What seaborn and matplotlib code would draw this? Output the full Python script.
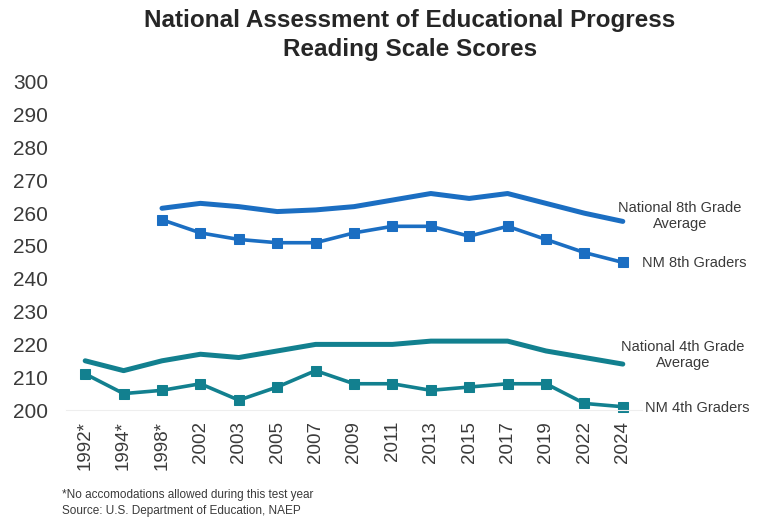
import numpy as np
import pandas as pd
import matplotlib
matplotlib.use('Agg')
import matplotlib.pyplot as plt
import seaborn as sns

# 数据
years = ['1992*', '1994*', '1998*', '2002', '2003', '2005', '2007', '2009',
         '2011', '2013', '2015', '2017', '2019', '2022', '2024']
nat_8th = [np.nan, np.nan, 261.5, 263, 262, 260.5, 261, 262, 264, 266, 264.5, 266, 263, 260, 257.5]
nm_8th = [np.nan, np.nan, 258, 254, 252, 251, 251, 254, 256, 256, 253, 256, 252, 248, 245]
nat_4th = [215, 212, 215, 217, 216, 218, 220, 220, 220, 221, 221, 221, 218, 216, 214]
nm_4th = [211, 205, 206, 208, 203, 207, 212, 208, 208, 206, 207, 208, 208, 202, 201]

blue = '#1b6ec2'
teal = '#12808f'
txt = '#3a3a3a'

sns.set_style('white')
plt.rcParams['font.family'] = ['Liberation Sans', 'DejaVu Sans']

fig = plt.figure(figsize=(7.57, 5.2), dpi=100)
ax = fig.add_axes([66 / 757, 110 / 520, 576 / 757, 328 / 520])

x = np.arange(len(years))
df = pd.DataFrame({'x': x, 'nat8': nat_8th, 'nm8': nm_8th, 'nat4': nat_4th, 'nm4': nm_4th})

sns.lineplot(data=df, x='x', y='nat8', color=blue, linewidth=3.6, ax=ax)
sns.lineplot(data=df, x='x', y='nm8', color=blue, linewidth=2.6, marker='s',
             markersize=7.5, markeredgecolor=blue, ax=ax)
sns.lineplot(data=df, x='x', y='nat4', color=teal, linewidth=3.6, ax=ax)
sns.lineplot(data=df, x='x', y='nm4', color=teal, linewidth=2.6, marker='s',
             markersize=7.5, markeredgecolor=teal, ax=ax)
for ln in ax.lines:
    ln.set_clip_on(False)

ax.set_xlim(-0.5, len(years) - 0.5)
ax.set_ylim(200, 300)
ax.set_yticks(range(200, 301, 10))
ax.set_xticks(x)
ax.set_xticklabels(years, rotation=90, fontsize=13.5, color=txt)
ax.tick_params(axis='y', labelsize=15, labelcolor=txt, length=0, pad=13)
ax.tick_params(axis='x', length=0, pad=8)
ax.set_xlabel('')
ax.set_ylabel('')
for s in ['top', 'right', 'left']:
    ax.spines[s].set_visible(False)
ax.spines['bottom'].set_color('#eeeeee')

# 右侧标签
fig.text(680 / 757, 1 - 216 / 520, 'National 8th Grade\nAverage', ha='center', va='center',
         fontsize=10.5, color=txt, linespacing=1.1)
fig.text(642 / 757, 1 - 263 / 520, 'NM 8th Graders', ha='left', va='center',
         fontsize=10.5, color=txt)
fig.text(683 / 757, 1 - 355 / 520, 'National 4th Grade\nAverage', ha='center', va='center',
         fontsize=10.5, color=txt, linespacing=1.1)
fig.text(645 / 757, 1 - 408 / 520, 'NM 4th Graders', ha='left', va='center',
         fontsize=10.5, color=txt)

# 标题
fig.text(410 / 757, 1 - 35 / 520, 'National Assessment of Educational Progress\nReading Scale Scores',
         ha='center', va='center', fontsize=17.5, fontweight='bold', color='#262626', linespacing=1.3)

# 脚注
fig.text(62 / 757, 1 - 503 / 520, '*No accomodations allowed during this test year\nSource: U.S. Department of Education, NAEP',
         ha='left', va='center', fontsize=8.5, color=txt, linespacing=1.35)

fig.savefig('out.png', dpi=100)
